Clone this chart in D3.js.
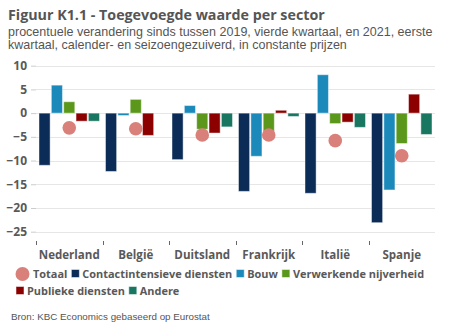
<!DOCTYPE html>
<meta charset="utf-8">
<script src="https://d3js.org/d3.v7.min.js"></script>
<style>
  body { margin: 0; background: #fff; }
  text { font-family: "Open Sans", sans-serif; fill: #595959; }
  text.sub { font-family: "Liberation Sans", Arial, sans-serif; }
</style>
<body>
<svg width="450" height="334"></svg>
<script>
  // data
  var countries = ['Nederland', 'België', 'Duitsland', 'Frankrijk', 'Italië', 'Spanje'];
  var series = ['Contactintensieve diensten', 'Bouw', 'Verwerkende nijverheid', 'Publieke diensten', 'Andere'];
  var colors = ['#0b2c57', '#1b8abb', '#5a971b', '#8c0000', '#197660'];
  var contact  = [-11.0, -12.3, -9.8, -16.5, -16.9, -23.1];
  var bouw     = [5.9, -0.5, 1.6, -9.1, 8.1, -16.2];
  var verwerk  = [2.4, 2.9, -3.4, -3.8, -2.2, -6.4];
  var publiek  = [-1.7, -4.7, -4.2, 0.6, -1.9, 4.0];
  var andere   = [-1.7, 0, -2.9, -0.7, -3.0, -4.5];
  var totaal   = [-3.1, -3.3, -4.6, -4.6, -5.8, -9.0];
  var yTicks = [10, 5, 0, -5, -10, -15, -20, -25];
  var subtitle = ['procentuele verandering sinds tussen 2019, vierde kwartaal, en 2021, eerste',
                  'kwartaal, calender- en seizoengezuiverd, in constante prijzen'];

  var values = [contact, bouw, verwerk, publiek, andere];
  var svg = d3.select('svg');

  // shrink a text's font-size so it spans roughly the given width
  function fit(t, width, size){
    t.style('font-size', size + 'px');
    var w = t.node().getComputedTextLength();
    var s = size * width / w;
    t.style('font-size', s.toFixed(2) + 'px');
    return s;
  }

  var x = d3.scaleBand().domain(countries).range([36, 435]);
  var xs = d3.scaleBand().domain(d3.range(5)).range([3, x.bandwidth() - 3]).paddingInner(0.1);
  var y = d3.scaleLinear().domain([-25, 10]).range([231.7, 65.7]);

  /* ---- titles ---- */
  var title = svg.append('text').attr('x', 8).attr('y', 19.5)
    .style('font-weight', 'bold').style('fill', '#555')
    .text('Figuur K1.1 - Toegevoegde waarde per sector');
  fit(title, 317, 14);

  var probeSub = svg.append('text').attr('class', 'sub').text(subtitle[0]);
  var subSize = fit(probeSub, 425, 12);
  probeSub.remove();
  svg.append('g').selectAll('text').data(subtitle).enter().append('text')
    .attr('class', 'sub')
    .attr('x', 8).attr('y', function(d, i){ return 35.5 + i * 13.2; })
    .style('font-size', subSize.toFixed(2) + 'px').style('fill', '#555')
    .text(function(d){ return d; });

  /* ---- grid + y axis ---- */
  svg.append('g').selectAll('line').data(yTicks).enter().append('line')
    .attr('x1', 36).attr('x2', 435)
    .attr('y1', function(d){ return Math.round(y(d)) + 0.5; })
    .attr('y2', function(d){ return Math.round(y(d)) + 0.5; })
    .attr('stroke', '#e6e6e6');

  var yAxis = svg.append('g').attr('transform', 'translate(36,0)')
    .call(d3.axisLeft(y).tickValues(yTicks).tickSize(5).tickPadding(4));
  yAxis.select('.domain').remove();
  yAxis.selectAll('line').attr('stroke', '#ccc');
  yAxis.selectAll('text').style('font-size', '12px').style('font-weight', 'bold')
    .style('font-family', '"Open Sans", sans-serif').attr('fill', '#595959');

  /* ---- x axis ---- */
  var xAxis = svg.append('g').attr('transform', 'translate(0,240)');
  xAxis.selectAll('line').data(countries).enter().append('line')
    .attr('x1', function(d){ return Math.round(x(d)) + 0.5; })
    .attr('x2', function(d){ return Math.round(x(d)) + 0.5; })
    .attr('y1', 1).attr('y2', 5).attr('stroke', '#666');
  var catLabels = xAxis.selectAll('text').data(countries).enter().append('text')
    .attr('x', function(d){ return x(d) + x.bandwidth() / 2; })
    .attr('y', 18.5).attr('text-anchor', 'middle')
    .style('font-weight', 'bold')
    .text(function(d){ return d; });
  var catSize = fit(d3.select(catLabels.nodes()[0]), 61, 12);
  catLabels.style('font-size', catSize.toFixed(2) + 'px');

  /* ---- bars ---- */
  values.forEach(function(vals, si){
    svg.append('g').selectAll('rect').data(vals).enter().append('rect')
      .attr('x', function(d, i){ return x(countries[i]) + xs(si); })
      .attr('width', xs.bandwidth())
      .attr('y', function(d){ return y(Math.max(0, d)); })
      .attr('height', function(d){ return Math.abs(y(d) - y(0)); })
      .attr('fill', colors[si])
      .attr('stroke', '#fff').attr('stroke-opacity', 0.45).attr('stroke-width', 1)
      .style('display', function(d){ return d === 0 ? 'none' : null; });
  });

  /* ---- totaal dots ---- */
  svg.append('g').selectAll('circle').data(totaal).enter().append('circle')
    .attr('cx', function(d, i){ return x(countries[i]) + x.bandwidth() / 2; })
    .attr('cy', function(d){ return y(d); })
    .attr('r', 6.8)
    .attr('fill', '#d9807a');

  /* ---- legend ---- */
  var legend = svg.append('g');
  var probe = legend.append('text').style('font-weight', 'bold').text('Contactintensieve diensten');
  var legSize = fit(probe, 150, 12);
  probe.remove();
  var items = [{name: 'Totaal', color: '#d9807a', dot: true}].concat(series.map(function(s, i){
    return {name: s, color: colors[i]};
  }));
  var lx = 16, ly = 278, maxX = 440;
  items.forEach(function(it){
    var g = legend.append('g');
    var sym = it.dot ? 14 : 8;
    var t = g.append('text').attr('x', sym + 3).attr('y', 0)
      .style('font-size', legSize.toFixed(2) + 'px').style('font-weight', 'bold')
      .text(it.name);
    var w = sym + 3 + t.node().getComputedTextLength();
    if (lx + w > maxX) { lx = 16; ly += 17; }
    if (it.dot) {
      g.append('circle').attr('cx', 6.5).attr('cy', -4).attr('r', 7).attr('fill', it.color);
    } else {
      g.append('rect').attr('x', 0).attr('y', -8.5).attr('width', 8).attr('height', 8)
        .attr('fill', it.color).attr('stroke', '#fff').attr('stroke-opacity', 0.5);
    }
    g.attr('transform', 'translate(' + lx + ',' + ly + ')');
    lx += w + 4;
  });

  /* ---- source ---- */
  var src = svg.append('text').attr('class', 'sub').attr('x', 11).attr('y', 320)
    .style('fill', '#555')
    .text('Bron: KBC Economics gebaseerd op Eurostat');
  fit(src, 199, 10);
</script>
</body>
